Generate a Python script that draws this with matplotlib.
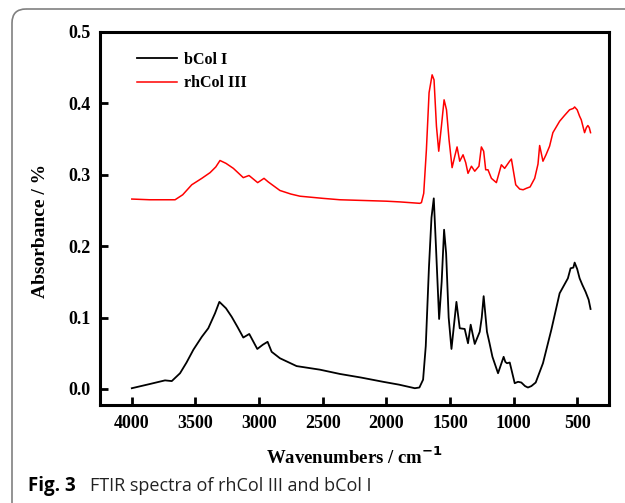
import matplotlib
matplotlib.use("Agg")
import matplotlib.pyplot as plt
from matplotlib.patches import FancyBboxPatch
import numpy as np

# ---- data ----
wn_rh = [4000, 3860, 3660, 3600, 3529, 3450, 3385, 3340, 3307, 3260, 3202, 3124, 3079, 3011,
         2961, 2928, 2836, 2750, 2679, 2500, 2365, 2182, 2000, 1894, 1737, 1724, 1706, 1685,
         1664, 1640, 1625, 1606, 1588, 1567, 1546, 1527, 1507, 1483, 1462, 1444, 1423, 1397,
         1376, 1358, 1331, 1305, 1272, 1253, 1235, 1219, 1201, 1174, 1135, 1096, 1070, 1031,
         1017, 983, 952, 925, 900, 870, 834, 808, 795, 782, 769, 745, 717, 691, 638, 600, 560,
         530, 520, 500, 481, 468, 442, 428, 416, 405, 395]
ab_rh = [0.266, 0.265, 0.265, 0.272, 0.286, 0.295, 0.303, 0.311, 0.320, 0.316, 0.309, 0.296,
         0.299, 0.289, 0.295, 0.290, 0.278, 0.273, 0.270, 0.267, 0.265, 0.264, 0.263, 0.262,
         0.260, 0.261, 0.274, 0.335, 0.415, 0.440, 0.433, 0.368, 0.333, 0.368, 0.405, 0.391,
         0.349, 0.310, 0.326, 0.339, 0.319, 0.328, 0.317, 0.302, 0.312, 0.305, 0.312, 0.339,
         0.333, 0.307, 0.307, 0.295, 0.289, 0.314, 0.309, 0.319, 0.322, 0.286, 0.280, 0.279,
         0.281, 0.283, 0.295, 0.315, 0.341, 0.330, 0.319, 0.328, 0.340, 0.359, 0.375, 0.383,
         0.391, 0.393, 0.395, 0.391, 0.382, 0.377, 0.359, 0.366, 0.369, 0.366, 0.359]

wn_b = [4000, 3856, 3739, 3686, 3621, 3570, 3516, 3450, 3399, 3346, 3312, 3260, 3215, 3170,
        3124, 3077, 3014, 2970, 2933, 2901, 2836, 2705, 2522, 2365, 2200, 2025, 1900, 1776,
        1740, 1711, 1690, 1665, 1645, 1627, 1610, 1585, 1565, 1546, 1530, 1510, 1488, 1449,
        1423, 1384, 1358, 1337, 1305, 1266, 1250, 1235, 1209, 1190, 1166, 1122, 1078, 1065,
        1052, 1030, 991, 965, 939, 910, 887, 860, 826, 769, 703, 638, 573, 552, 530, 520, 500,
        481, 460, 434, 410, 395]
ab_b = [0.001, 0.007, 0.012, 0.011, 0.022, 0.037, 0.055, 0.073, 0.085, 0.106, 0.122, 0.113,
        0.101, 0.087, 0.072, 0.077, 0.056, 0.062, 0.066, 0.052, 0.043, 0.032, 0.027, 0.021,
        0.016, 0.010, 0.006, 0.001, 0.002, 0.013, 0.060, 0.170, 0.240, 0.267, 0.200, 0.098,
        0.150, 0.223, 0.190, 0.100, 0.056, 0.122, 0.085, 0.084, 0.064, 0.090, 0.063, 0.080,
        0.100, 0.130, 0.080, 0.065, 0.045, 0.022, 0.045, 0.038, 0.036, 0.037, 0.008, 0.010,
        0.009, 0.004, 0.002, 0.004, 0.009, 0.036, 0.083, 0.134, 0.155, 0.169, 0.170, 0.177,
        0.168, 0.155, 0.146, 0.136, 0.125, 0.112]

x_ticks = [4000, 3500, 3000, 2500, 2000, 1500, 1000, 500]
y_ticks = [0.0, 0.1, 0.2, 0.3, 0.4, 0.5]

serif = ["Liberation Serif", "DejaVu Serif"]

fig = plt.figure(figsize=(6.25, 5.03), dpi=100)

# frame around the figure (rounded corner top-left)
bg = fig.add_axes([0, 0, 1, 1])
bg.set_xlim(0, 625)
bg.set_ylim(503, 0)
bg.axis("off")
bg.add_patch(FancyBboxPatch((12, 9), 800, 700, boxstyle="round,pad=0,rounding_size=14",
                            fill=False, edgecolor="#808080", linewidth=1.2))

ax = fig.add_axes([100 / 625, 1 - 405 / 503, 509 / 625, 373 / 503])
ax.plot(wn_b, ab_b, color="black", lw=1.3, label="bCol I")
ax.plot(wn_rh, ab_rh, color="#ff0000", lw=1.1, label="rhCol III")
ax.set_xlim(4250, 250)
ax.set_ylim(-0.0225, 0.5)
ax.set_xticks(x_ticks)
ax.set_yticks(y_ticks)
ax.set_xticklabels([str(v) for v in x_ticks])
ax.set_yticklabels([f"{v:.1f}" for v in y_ticks])
ax.tick_params(direction="in", length=6, width=2, labelsize=13, pad=7)
for lab in ax.get_xticklabels() + ax.get_yticklabels():
    lab.set_family(serif)
    lab.set_fontweight("bold")
for s in ax.spines.values():
    s.set_linewidth(2.2)

ax.set_xlabel("Wavenumbers / cm$^{\\mathbf{-1}}$", family=serif, fontweight="bold",
              fontsize=13.5, labelpad=11)
ax.set_ylabel("Absorbance / %", family=serif, fontweight="bold", fontsize=14)
ax.yaxis.set_label_coords(-0.10, (405 - 231) / 373)

leg = ax.legend(loc="upper left", bbox_to_anchor=(0.045, 0.985), frameon=False,
                handlelength=2.5, handletextpad=0.4, labelspacing=0.45,
                prop={"family": serif, "weight": "bold", "size": 11.5})

fig.text(28 / 625, 1 - 486 / 503, "Fig. 3", family=["Open Sans", "DejaVu Sans"],
         fontweight="bold", fontsize=13.5, va="center", ha="left")
fig.text(90 / 625, 1 - 486 / 503, "FTIR spectra of rhCol III and bCol I",
         family=["Open Sans", "DejaVu Sans"], fontsize=13, va="center", ha="left",
         color="#222222")

fig.savefig("out.png", dpi=100)
